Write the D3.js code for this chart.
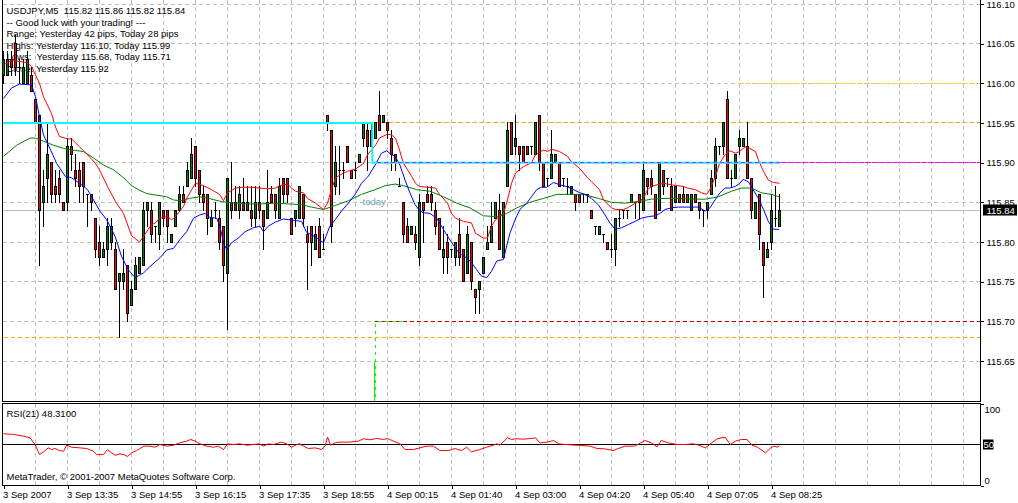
<!DOCTYPE html>
<html>
<head>
<meta charset="utf-8">
<script src="https://cdnjs.cloudflare.com/ajax/libs/d3/7.8.5/d3.min.js"></script>
<style>
	body { margin: 0; background: #ffffff; }
	svg { display: block; font-family: "Liberation Sans", Arial, sans-serif; font-size: 9.5px; }
</style>
</head>
<body>
<svg id="chart" width="1018" height="503"></svg>
<script>

// USDJPY M5 candles, one entry per bar
var opens = [
	116.01,116.01,116.03,116.05,116.02,116.00,116.00,116.01,115.98,115.96,
	115.85,115.88,115.90,115.87,115.88,115.85,115.85,115.92,115.89,115.89,
	115.90,115.86,115.86,115.83,115.80,115.78,115.79,115.80,115.79,115.75,
	115.75,115.77,115.72,115.74,115.76,115.77,115.84,115.84,115.82,115.81,
	115.84,115.84,115.80,115.82,115.84,115.86,115.87,115.88,115.92,115.89,
	115.86,115.86,115.82,115.84,115.83,115.82,115.76,115.84,115.85,115.84,
	115.85,115.84,115.84,115.83,115.85,115.84,115.83,115.86,115.86,115.83,
	115.88,115.88,115.83,115.83,115.83,115.86,115.81,115.82,115.79,115.82,
	115.79,115.96,115.94,115.87,115.89,115.89,115.92,115.89,115.89,115.90,
	115.93,115.94,115.94,115.93,115.96,115.95,115.95,115.93,115.91,115.87,
	115.85,115.82,115.81,115.81,115.78,115.85,115.86,115.86,115.84,115.83,
	115.78,115.80,115.79,115.78,115.81,115.79,115.76,115.80,115.74,115.74,
	115.76,115.79,115.80,115.83,115.84,115.78,115.87,115.95,115.92,115.92,
	115.92,115.92,115.92,115.91,115.96,115.90,115.88,115.88,115.90,115.90,
	115.88,115.87,115.86,115.86,115.86,115.86,115.86,115.84,115.82,115.81,
	115.81,115.80,115.79,115.79,115.83,115.84,115.84,115.85,115.85,115.86,
	115.84,115.88,115.88,115.86,115.84,115.89,115.88,115.87,115.85,115.86,
	115.86,115.86,115.84,115.86,115.85,115.84,115.84,115.86,115.88,115.92,
	115.92,115.98,115.88,115.88,115.92,115.92,115.92,115.88,115.83,115.86,
	115.80,115.78,115.80,115.83,115.82];

var highs = [
	116.04,116.04,116.04,116.06,116.03,116.03,116.04,116.02,115.98,115.96,
	115.89,115.95,115.90,115.89,115.89,115.85,115.93,115.93,115.91,115.90,
	115.90,115.86,115.86,115.83,115.82,115.80,115.83,115.83,115.80,115.76,
	115.79,115.77,115.75,115.78,115.78,115.85,115.85,115.85,115.82,115.85,
	115.84,115.84,115.81,115.84,115.87,115.87,115.90,115.93,115.92,115.89,
	115.87,115.86,115.84,115.85,115.84,115.82,115.88,115.90,115.87,115.87,
	115.88,115.87,115.87,115.87,115.87,115.84,115.89,115.87,115.86,115.88,
	115.88,115.88,115.83,115.84,115.87,115.86,115.82,115.82,115.82,115.83,
	115.81,115.96,115.94,115.92,115.92,115.90,115.92,115.89,115.90,115.91,
	115.95,115.95,115.95,115.95,115.99,115.96,115.95,115.94,115.91,115.88,
	115.85,115.83,115.82,115.82,115.86,115.85,115.87,115.87,115.85,115.83,
	115.82,115.81,115.79,115.80,115.83,115.79,115.82,115.80,115.74,115.75,
	115.78,115.82,115.85,115.85,115.86,115.85,115.95,115.95,115.96,115.92,
	115.92,115.92,115.92,115.95,115.96,115.90,115.88,115.94,115.91,115.90,
	115.88,115.88,115.87,115.86,115.86,115.86,115.86,115.84,115.82,115.82,
	115.81,115.80,115.81,115.83,115.84,115.84,115.84,115.86,115.85,115.86,
	115.90,115.88,115.89,115.86,115.90,115.89,115.88,115.88,115.87,115.86,
	115.87,115.86,115.86,115.86,115.85,115.84,115.85,115.89,115.93,115.92,
	115.95,115.99,115.89,115.91,115.94,115.93,115.95,115.88,115.85,115.86,
	115.80,115.80,115.86,115.87,115.86];

var lows = [
	116.00,116.01,116.01,116.01,116.00,116.00,116.00,115.99,115.95,115.77,
	115.82,115.85,115.85,115.85,115.85,115.84,115.84,115.89,115.87,115.85,
	115.85,115.82,115.84,115.78,115.77,115.78,115.77,115.79,115.74,115.68,
	115.74,115.70,115.72,115.74,115.76,115.77,115.82,115.80,115.80,115.79,
	115.82,115.80,115.80,115.82,115.84,115.85,115.87,115.88,115.87,115.85,
	115.84,115.81,115.82,115.83,115.79,115.75,115.69,115.83,115.84,115.83,
	115.84,115.84,115.82,115.82,115.83,115.79,115.83,115.85,115.83,115.83,
	115.85,115.85,115.81,115.82,115.83,115.82,115.74,115.77,115.79,115.78,
	115.79,115.94,115.80,115.86,115.86,115.88,115.90,115.88,115.88,115.90,
	115.92,115.89,115.92,115.93,115.94,115.95,115.93,115.89,115.89,115.87,
	115.80,115.80,115.81,115.79,115.77,115.80,115.85,115.84,115.81,115.79,
	115.76,115.76,115.78,115.77,115.77,115.75,115.76,115.74,115.71,115.71,
	115.76,115.79,115.80,115.83,115.79,115.78,115.87,115.91,115.91,115.89,
	115.90,115.91,115.91,115.91,115.89,115.87,115.87,115.88,115.90,115.87,
	115.87,115.86,115.86,115.84,115.85,115.85,115.85,115.83,115.81,115.81,
	115.80,115.79,115.78,115.77,115.82,115.83,115.83,115.85,115.83,115.83,
	115.84,115.86,115.86,115.83,115.84,115.86,115.87,115.84,115.85,115.85,
	115.85,115.85,115.84,115.85,115.83,115.82,115.83,115.86,115.87,115.91,
	115.91,115.88,115.87,115.88,115.91,115.92,115.88,115.83,115.83,115.79,
	115.73,115.78,115.79,115.82,115.82];

var closes = [
	116.03,116.03,116.02,116.02,116.02,116.02,116.03,115.99,115.95,115.84,
	115.87,115.91,115.86,115.86,115.86,115.84,115.92,115.91,115.88,115.87,
	115.87,115.86,115.85,115.79,115.78,115.79,115.82,115.82,115.74,115.76,
	115.76,115.71,115.74,115.77,115.78,115.84,115.85,115.81,115.82,115.85,
	115.83,115.82,115.81,115.84,115.86,115.85,115.89,115.91,115.88,115.86,
	115.85,115.83,115.83,115.84,115.80,115.77,115.88,115.85,115.84,115.86,
	115.84,115.85,115.83,115.85,115.84,115.82,115.85,115.85,115.84,115.87,
	115.86,115.86,115.81,115.84,115.87,115.83,115.80,115.80,115.81,115.78,
	115.79,115.95,115.82,115.90,115.89,115.89,115.90,115.88,115.89,115.91,
	115.95,115.92,115.92,115.95,115.94,115.96,115.94,115.91,115.90,115.87,
	115.81,115.80,115.82,115.80,115.85,115.84,115.85,115.85,115.82,115.79,
	115.79,115.78,115.79,115.80,115.78,115.75,115.81,115.75,115.73,115.75,
	115.78,115.80,115.82,115.85,115.79,115.85,115.94,115.91,115.93,115.91,
	115.90,115.91,115.92,115.95,115.90,115.87,115.88,115.91,115.91,115.87,
	115.88,115.87,115.87,115.85,115.85,115.86,115.86,115.83,115.82,115.82,
	115.81,115.79,115.79,115.83,115.83,115.84,115.84,115.86,115.85,115.85,
	115.89,115.87,115.87,115.83,115.90,115.87,115.88,115.84,115.87,115.85,
	115.85,115.85,115.86,115.85,115.84,115.84,115.85,115.88,115.92,115.92,
	115.95,115.88,115.88,115.91,115.93,115.93,115.88,115.84,115.85,115.81,
	115.77,115.79,115.84,115.83,115.84];

// Moving averages as [bar, price] points
var maRed = [
	[0,116.023],[2,116.029],[6,116.026],[7,116.021],[9,116.000],[10,115.983],[12,115.962],[13,115.945],
	[14,115.933],[16,115.930],[17,115.930],[19,115.920],[21,115.910],[23,115.899],[24,115.891],[26,115.870],
	[28,115.851],[30,115.836],[32,115.808],[34,115.800],[35,115.807],[37,115.822],[38,115.824],[39,115.830],
	[41,115.832],[42,115.828],[43,115.832],[45,115.845],[46,115.857],[48,115.874],[50,115.871],[52,115.866],
	[54,115.860],[55,115.852],[56,115.862],[58,115.868],[60,115.869],[62,115.869],[64,115.868],[66,115.867],
	[68,115.868],[69,115.871],[71,115.873],[72,115.868],[73,115.864],[75,115.862],[76,115.855],[78,115.849],
	[80,115.841],[81,115.849],[82,115.866],[83,115.881],[85,115.887],[86,115.889],[88,115.892],[90,115.899],
	[91,115.910],[93,115.922],[94,115.931],[96,115.936],[97,115.935],[98,115.931],[99,115.916],[100,115.899],
	[102,115.883],[103,115.874],[104,115.870],[106,115.869],[108,115.868],[109,115.860],[111,115.849],[112,115.836],
	[113,115.830],[115,115.826],[117,115.824],[118,115.811],[120,115.805],[121,115.805],[122,115.820],[123,115.828],
	[125,115.836],[126,115.853],[127,115.874],[128,115.887],[130,115.895],[132,115.900],[133,115.910],[135,115.916],
	[136,115.914],[137,115.917],[139,115.914],[141,115.908],[142,115.901],[144,115.893],[146,115.881],[147,115.876],
	[149,115.866],[150,115.853],[152,115.843],[153,115.841],[155,115.841],[156,115.843],[158,115.849],[160,115.855],
	[161,115.866],[162,115.870],[164,115.873],[165,115.874],[167,115.872],[170,115.870],[171,115.868],[173,115.866],
	[174.5,115.862],[175.8,115.860],[176.6,115.866],[178,115.883],[179,115.899],[180.4,115.910],[181.6,115.915],
	[183,115.912],[184,115.914],[185.4,115.920],[186.6,115.918],[188,115.914],[188.7,115.904],[190,115.889],
	[191.2,115.878],[192.5,115.875],[194,115.874]];

var maBlue = [
	[0,115.981],[2,115.994],[4,115.999],[7,115.998],[8,115.983],[9,115.958],[10,115.935],[11.6,115.918],
	[13.3,115.899],[15.4,115.883],[17,115.881],[19,115.874],[21,115.866],[22.5,115.853],[24.1,115.839],[25.8,115.828],
	[27.9,115.807],[29.5,115.782],[31.2,115.765],[32.9,115.755],[35,115.761],[36.6,115.769],[39.1,115.780],[40.8,115.790],
	[42.5,115.792],[44.1,115.803],[45.8,115.813],[47.5,115.830],[49,115.834],[50.4,115.836],[51.6,115.831],[53.3,115.830],
	[54.1,115.820],[55,115.799],[55.8,115.790],[57,115.799],[58.7,115.805],[60.4,115.813],[62.5,115.818],[64.1,115.820],
	[65,115.813],[66.2,115.820],[67.9,115.825],[70,115.829],[71.6,115.828],[72.9,115.827],[74.5,115.826],[75.8,115.812],
	[77,115.809],[78.3,115.805],[80,115.799],[80.9,115.811],[81.6,115.820],[82.9,115.828],[84.5,115.839],[86.2,115.849],
	[87.9,115.860],[89.5,115.874],[91.2,115.883],[92.9,115.897],[94.5,115.912],[95.8,115.915],[97,115.910],[97.9,115.908],
	[99.1,115.897],[100.4,115.878],[101.6,115.862],[102.9,115.847],[104.1,115.839],[105,115.837],[106.6,115.836],[108.3,115.830],
	[109.5,115.820],[110.8,115.809],[112.1,115.799],[113.3,115.790],[114.5,115.784],[115.8,115.780],[117,115.774],[118.3,115.765],
	[119.5,115.757],[120.8,115.755],[122,115.763],[123.3,115.776],[125,115.778],[125.8,115.795],[126.6,115.811],[127.9,115.828],
	[129.1,115.841],[130.8,115.849],[132,115.857],[133.3,115.866],[134.5,115.869],[135.8,115.869],[137.5,115.875],[139.1,115.872],
	[140.8,115.870],[142.5,115.866],[144.1,115.862],[145.4,115.860],[147,115.855],[148.7,115.847],[150.4,115.834],[151.6,115.824],
	[152.9,115.816],[154.5,115.818],[156.2,115.822],[157.9,115.826],[159.5,115.830],[161.2,115.832],[162.9,115.833],[164.1,115.836],
	[165.4,115.841],[167,115.843],[168.7,115.844],[172,115.844],[173.7,115.844],[175.4,115.839],[176.6,115.843],[177.9,115.853],
	[179.1,115.862],[180.4,115.868],[181.6,115.868],[182.9,115.870],[184.1,115.874],[184.9,115.879],[186.2,115.876],[187.4,115.866],
	[188.7,115.855],[190,115.841],[191.2,115.826],[192.5,115.816],[193.9,115.816]];

var maGreen = [
	[0,115.908],[3.3,115.922],[6.6,115.931],[7.9,115.931],[10,115.927],[12.5,115.922],[15,115.918],[17,115.916],
	[20,115.914],[22.5,115.906],[25,115.897],[27.5,115.891],[30,115.881],[32,115.871],[34.1,115.865],[35.8,115.861],
	[38.3,115.859],[40.8,115.857],[42.5,115.853],[44.1,115.852],[46.6,115.855],[49,115.857],[51.2,115.855],[54.5,115.851],
	[57.9,115.849],[61.2,115.848],[64.5,115.848],[67.9,115.849],[71.2,115.848],[74.5,115.847],[77,115.844],[80,115.841],
	[82.9,115.846],[86.2,115.852],[89.5,115.860],[92.9,115.866],[95.4,115.871],[97.9,115.873],[100,115.871],[103.3,115.866],
	[106.6,115.864],[110,115.857],[113.3,115.849],[116.6,115.843],[120,115.833],[123.3,115.832],[125.8,115.836],[128.3,115.843],
	[131.6,115.850],[135,115.855],[138.3,115.860],[141.6,115.860],[145,115.860],[148.7,115.855],[152,115.850],[155.4,115.849],
	[158.7,115.851],[162,115.854],[165.4,115.855],[168.7,115.855],[172,115.854],[175.4,115.854],[178.7,115.857],[182,115.864],
	[184.5,115.868],[187,115.868],[189.5,115.862],[192,115.860],[193.9,115.857]];

// RSI(21) as [bar, value]
var rsi = [
	[0,63.1],[2.5,62.3],[5,60.2],[6.6,58.2],[7.9,50.0],[9,37.7],[10,41.0],[11.2,45.9],[12,43.9],[12.9,45.1],
	[14,42.6],[15,41.8],[15.8,49.2],[17,46.7],[19.1,45.9],[20.8,45.1],[22.5,41.8],[23.3,37.7],[25,37.7],[26,43.9],
	[27,39.8],[27.9,36.9],[29.1,38.5],[30.1,37.7],[31,35.3],[32,39.8],[33.3,42.6],[34.1,45.1],[35.1,48.0],[36.6,48.0],
	[37.9,46.7],[39.1,50.0],[40.8,48.0],[42.5,49.2],[44.1,52.0],[45.8,54.1],[46.8,56.1],[47.9,54.1],[49.1,50.8],[50.8,48.0],
	[52.5,46.7],[53.7,48.0],[55,43.9],[56,50.8],[57.5,50.0],[59.1,50.8],[60.8,49.2],[62.5,50.0],[64,50.8],[65,48.0],
	[66.2,50.8],[67.5,50.0],[69.5,52.9],[70.8,50.8],[72,46.7],[73.3,50.0],[74.1,50.8],[75,48.0],[76.2,45.1],[77.9,45.9],
	[79.5,43.9],[80.4,48.0],[81,59.0],[81.8,49.2],[82.9,52.0],[84.1,52.9],[86.6,52.9],[88.7,54.1],[90,57.0],[91.6,55.7],
	[93.3,57.4],[95,56.1],[96,57.4],[97.5,54.1],[99.1,50.8],[100.4,43.9],[102.5,43.9],[104.1,45.9],[105.8,48.0],[107.5,48.0],
	[109.1,42.6],[111.2,42.6],[112.9,45.1],[114.5,42.6],[115.8,46.7],[117,41.0],[119.1,43.9],[120.8,46.7],[122.5,49.2],[123.3,50.8],
	[124.1,49.2],[126,58.2],[127,56.1],[128,57.0],[130,56.5],[132,57.4],[133,58.2],[134.1,52.0],[136,52.9],[137.5,54.9],
	[138.8,50.8],[140.4,50.0],[144.4,48.8],[146.6,48.0],[148.4,45.1],[150.4,44.7],[152.4,42.6],[153.7,45.1],[155.4,48.0],[157.8,48.0],
	[160.4,54.9],[162,52.0],[163.4,47.1],[164.4,54.9],[166.2,52.0],[168.4,50.0],[170.4,50.0],[172.4,50.8],[173.8,49.2],[175.5,45.9],
	[176.5,50.0],[178.4,57.0],[180.4,59.0],[181.7,50.0],[183,54.1],[184.5,56.1],[185.9,56.1],[187.1,49.2],[188.5,46.7],[190.5,39.8],
	[191.8,45.9],[192.6,48.0],[193.5,46.7],[194,48.31]];

// Horizontal levels drawn by the chart objects
var levelPrices = [115.68, 115.70, 115.90, 115.95, 116.00];
var levelStartBar = [0, 92.9, 92.9, 92.9, 184];
var pivotPrices = [115.95, 115.90];
var pivotBreakBar = 92.2;
var todayBar = 92.9;

// Axis ticks and labels
var priceTicks = [115.65, 115.70, 115.75, 115.80, 115.85, 115.90, 115.95, 116.00, 116.05, 116.10];
var timeTickBars = [0, 16, 32, 48, 64, 80, 96, 112, 128, 144, 160, 176, 192];
var timeLabels = ['3 Sep 2007', '3 Sep 13:35', '3 Sep 14:55', '3 Sep 16:15', '3 Sep 17:35', '3 Sep 18:55',
	'4 Sep 00:15', '4 Sep 01:40', '4 Sep 03:00', '4 Sep 04:20', '4 Sep 05:40', '4 Sep 07:05', '4 Sep 08:25'];
var infoLines = [
	'USDJPY,M5  115.82 115.86 115.82 115.84',
	'-- Good luck with your trading! ---',
	'Range: Yesterday 42 pips, Today 28 pips',
	'Highs: Yesterday 116.10, Today 115.99',
	'Lows:  Yesterday 115.68, Today 115.71',
	'Close: Yesterday 115.92'];
var rsiTitle = 'RSI(21) 48.3100';
var copyright = 'MetaTrader, \u00a9 2001-2007 MetaQuotes Software Corp.';

// Layout
var panelLeft = 2.5, panelRight = 980.5;
var mainBottom = 401.5, rsiTop = 403.5, rsiBottom = 485.5;
var dash = '4,3';

var svg = d3.select('#chart');

// Scales: 4 px per bar, price and RSI vertical scales
var xScale = d3.scaleLinear().domain([0, 1]).range([3.5, 7.5]);
var yScale = d3.scaleLinear().domain([115.65, 116.10]).range([361, 4]);
var rsiScale = d3.scaleLinear().domain([0, 100]).range([rsiBottom, rsiTop]);

function snap(v) { return Math.round(v - 0.5) + 0.5; }

// Clip paths for the two panels
var defs = svg.append('defs');
defs.append('clipPath').attr('id', 'clipMain')
	.append('rect').attr('x', panelLeft).attr('y', 0)
	.attr('width', panelRight - panelLeft).attr('height', mainBottom);
defs.append('clipPath').attr('id', 'clipRsi')
	.append('rect').attr('x', panelLeft).attr('y', rsiTop)
	.attr('width', panelRight - panelLeft).attr('height', rsiBottom - rsiTop);

var main = svg.append('g').attr('clip-path', 'url(#clipMain)');
var sub = svg.append('g').attr('clip-path', 'url(#clipRsi)');

// Vertical grid every 8 bars, both panels
var gridBars = d3.range(8, 241, 8);
[[main, 0, mainBottom], [sub, rsiTop, rsiBottom]].forEach(function(p) {
	p[0].append('g').selectAll('line')
		.data(gridBars).enter().append('line')
		.attr('x1', function(d) { return xScale(d); })
		.attr('x2', function(d) { return xScale(d); })
		.attr('y1', p[1]).attr('y2', p[2])
		.attr('stroke', '#c0c0c0').attr('stroke-dasharray', dash)
		.attr('shape-rendering', 'crispEdges');
});

// Horizontal grid at price ticks
main.append('g').selectAll('line')
	.data(priceTicks).enter().append('line')
	.attr('x1', panelLeft).attr('x2', panelRight)
	.attr('y1', function(d) { return snap(yScale(d)); })
	.attr('y2', function(d) { return snap(yScale(d)); })
	.attr('stroke', '#c0c0c0').attr('stroke-dasharray', dash)
	.attr('shape-rendering', 'crispEdges');

// Info text in the top left corner (under the candles)
main.append('g').selectAll('text')
	.data(infoLines).enter().append('text')
	.attr('x', 6.5)
	.attr('y', function(d, i) { return 14 + i * 11.6; })
	.style('white-space', 'pre')
	.attr('fill', '#000')
	.text(function(d) { return d; });

// Bid line at the last close
var lastClose = closes[closes.length - 1];
main.append('line')
	.attr('x1', panelLeft).attr('x2', panelRight)
	.attr('y1', snap(yScale(lastClose))).attr('y2', snap(yScale(lastClose)))
	.attr('stroke', '#c0c0c0').attr('shape-rendering', 'crispEdges');

// Dashed level lines
var levelColors = ['#ffa500', '#c00000', '#ff00ff', '#ffa500', '#ffd700'];
main.append('g').selectAll('line')
	.data(levelPrices).enter().append('line')
	.attr('x1', function(d, i) { return xScale(levelStartBar[i]); })
	.attr('x2', panelRight)
	.attr('y1', function(d) { return snap(yScale(d)); })
	.attr('y2', function(d) { return snap(yScale(d)); })
	.attr('stroke', function(d, i) { return levelColors[i]; })
	.attr('stroke-dasharray', dash)
	.attr('shape-rendering', 'crispEdges');

// Today marker: green dashed bracket and solid stub
var todayX = snap(xScale(todayBar));
main.append('path')
	.attr('d', 'M' + todayX + ',' + mainBottom + 'V' + snap(yScale(115.70)) + 'H' + (todayX + 28))
	.attr('fill', 'none').attr('stroke', '#00ff00')
	.attr('stroke-dasharray', '3,4').attr('stroke-dashoffset', 2)
	.attr('shape-rendering', 'crispEdges');
main.append('line')
	.attr('x1', todayX - 1).attr('x2', todayX - 1)
	.attr('y1', yScale(115.65)).attr('y2', mainBottom)
	.attr('stroke', '#00ff00').attr('shape-rendering', 'crispEdges');

// Candles
var candles = main.append('g').selectAll('g')
	.data(d3.range(opens.length)).enter().append('g');

candles.append('line')
	.attr('x1', function(i) { return xScale(i); })
	.attr('x2', function(i) { return xScale(i); })
	.attr('y1', function(i) { return snap(yScale(highs[i])) - 0.5; })
	.attr('y2', function(i) { return snap(yScale(lows[i])) + 0.5; })
	.attr('stroke', '#000').attr('shape-rendering', 'crispEdges');

candles.filter(function(i) { return opens[i] !== closes[i]; })
	.append('rect')
	.attr('x', function(i) { return xScale(i) - 1; })
	.attr('y', function(i) { return snap(yScale(Math.max(opens[i], closes[i]))); })
	.attr('width', 2)
	.attr('height', function(i) {
		return snap(yScale(Math.min(opens[i], closes[i]))) - snap(yScale(Math.max(opens[i], closes[i])));
	})
	.attr('fill', function(i) { return closes[i] > opens[i] ? '#008000' : '#ff0000'; })
	.attr('stroke', '#000').attr('shape-rendering', 'crispEdges');

candles.filter(function(i) { return opens[i] === closes[i]; })
	.append('line')
	.attr('x1', function(i) { return xScale(i) - 1.5; })
	.attr('x2', function(i) { return xScale(i) + 1.5; })
	.attr('y1', function(i) { return snap(yScale(opens[i])); })
	.attr('y2', function(i) { return snap(yScale(opens[i])); })
	.attr('stroke', '#000').attr('shape-rendering', 'crispEdges');

// Moving averages
var maLine = d3.line()
	.x(function(d) { return xScale(d[0]); })
	.y(function(d) { return yScale(d[1]); });

[[maGreen, '#008000'], [maBlue, '#0000ff'], [maRed, '#ff0000']].forEach(function(m) {
	main.append('path')
		.datum(m[0])
		.attr('d', maLine)
		.attr('fill', 'none')
		.attr('stroke', m[1])
		.attr('stroke-width', 1);
});

// Cyan pivot line with its step at the day change
var breakX = xScale(pivotBreakBar);
main.append('path')
	.attr('d', 'M' + panelLeft + ',' + yScale(pivotPrices[0]) +
		'H' + breakX + 'V' + yScale(pivotPrices[1]) +
		'H' + xScale(opens.length - 0.9))
	.attr('fill', 'none').attr('stroke', '#00ffff').attr('stroke-width', 2);

// Magenta level drawn again over the cyan part
main.append('line')
	.attr('x1', xScale(todayBar) + 2).attr('x2', panelRight)
	.attr('y1', snap(yScale(115.90))).attr('y2', snap(yScale(115.90)))
	.attr('stroke', '#ff00ff').attr('stroke-dasharray', dash)
	.attr('shape-rendering', 'crispEdges');

// Today label
main.append('text')
	.attr('x', todayX - 13).attr('y', 205)
	.attr('fill', '#66a3ad')
	.text('today');

// RSI panel
sub.append('line')
	.attr('x1', panelLeft).attr('x2', panelRight)
	.attr('y1', snap(rsiScale(50))).attr('y2', snap(rsiScale(50)))
	.attr('stroke', '#000').attr('shape-rendering', 'crispEdges');

sub.append('path')
	.datum(rsi)
	.attr('d', d3.line()
		.x(function(d) { return xScale(d[0]); })
		.y(function(d) { return rsiScale(d[1]); }))
	.attr('fill', 'none').attr('stroke', '#ff0000');

sub.append('text').attr('x', 6.5).attr('y', 416.5).text(rsiTitle);
sub.append('text').attr('x', 6.5).attr('y', 480).text(copyright);

// Panel frames
[[0, mainBottom], [rsiTop, rsiBottom]].forEach(function(p) {
	svg.append('rect')
		.attr('x', panelLeft).attr('y', p[0] === 0 ? -1 : p[0])
		.attr('width', panelRight - panelLeft)
		.attr('height', p[1] - (p[0] === 0 ? -1 : p[0]))
		.attr('fill', 'none').attr('stroke', '#000')
		.attr('shape-rendering', 'crispEdges');
});

// Price axis
var yAxis = d3.axisRight(yScale)
	.tickValues(priceTicks)
	.tickSize(3)
	.tickFormat(d3.format('.2f'));
var yAxisG = svg.append('g')
	.attr('transform', 'translate(' + panelRight + ',0)')
	.call(yAxis);
yAxisG.select('.domain').remove();
yAxisG.selectAll('text').attr('x', 6).style('font-size', '9.5px').style('font-family', 'inherit');
yAxisG.selectAll('line').attr('shape-rendering', 'crispEdges');

// Bid price box
svg.append('rect')
	.attr('x', 983).attr('y', snap(yScale(lastClose)) - 6)
	.attr('width', 34).attr('height', 11)
	.attr('fill', '#000');
svg.append('text')
	.attr('x', 986.5).attr('y', snap(yScale(lastClose)) + 3.5)
	.attr('fill', '#fff')
	.text(d3.format('.2f')(lastClose));

// RSI axis
var rsiAxis = d3.axisRight(rsiScale)
	.tickValues([0, 100])
	.tickSize(3)
	.tickFormat(d3.format('d'));
var rsiAxisG = svg.append('g')
	.attr('transform', 'translate(' + panelRight + ',0)')
	.call(rsiAxis);
rsiAxisG.select('.domain').remove();
rsiAxisG.selectAll('text').attr('x', 4).style('font-size', '9.5px').style('font-family', 'inherit')
	.attr('dy', function(d) { return d === 100 ? '0.95em' : '-0.25em'; });
rsiAxisG.selectAll('line').attr('shape-rendering', 'crispEdges');

svg.append('rect')
	.attr('x', 983).attr('y', snap(rsiScale(50)) - 5)
	.attr('width', 10.5).attr('height', 10)
	.attr('fill', '#000');
svg.append('text')
	.attr('x', 983.5).attr('y', snap(rsiScale(50)) + 3.5)
	.attr('fill', '#fff')
	.text('50');

// Time axis
var xAxis = d3.axisBottom(xScale)
	.tickValues(timeTickBars)
	.tickSize(3)
	.tickFormat(function(d, i) { return timeLabels[i]; });
var xAxisG = svg.append('g')
	.attr('transform', 'translate(0,' + rsiBottom + ')')
	.call(xAxis);
xAxisG.select('.domain').remove();
xAxisG.selectAll('text')
	.attr('text-anchor', 'start')
	.attr('x', -1)
	.style('font-size', '9.5px').style('font-family', 'inherit');
xAxisG.selectAll('line').attr('shape-rendering', 'crispEdges');

</script>
</body>
</html>
